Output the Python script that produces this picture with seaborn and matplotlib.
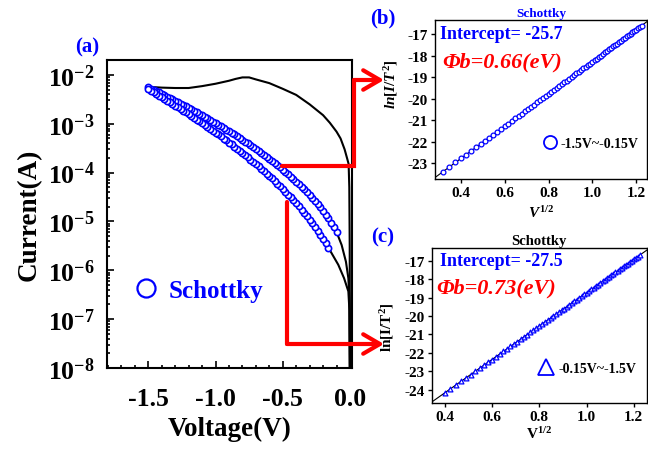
import numpy as np
import seaborn as sns
import matplotlib.pyplot as plt
from matplotlib.lines import Line2D
from matplotlib.patches import FancyArrowPatch
from matplotlib.ticker import MultipleLocator, FormatStrFormatter, LogLocator

# |V| sweep used for the Schottky fits (V)
bias = [0.10, 0.12, 0.14, 0.16, 0.18, 0.20, 0.22, 0.24, 0.26, 0.28,
        0.30, 0.32, 0.34, 0.36, 0.38, 0.40, 0.42, 0.44, 0.46, 0.48,
        0.50, 0.52, 0.54, 0.56, 0.58, 0.60, 0.62, 0.64, 0.66, 0.68,
        0.70, 0.72, 0.74, 0.76, 0.78, 0.80, 0.82, 0.84, 0.86, 0.88,
        0.90, 0.92, 0.94, 0.96, 0.98, 1.00, 1.02, 1.04, 1.06, 1.08,
        1.10, 1.12, 1.14, 1.16, 1.18, 1.20, 1.22, 1.24, 1.26, 1.28,
        1.30, 1.32, 1.34, 1.36, 1.38, 1.40, 1.42, 1.44, 1.46, 1.48,
        1.50]

# ln(I/T^2), branch -1.5V ~ -0.15V (panel b), one value per bias
ln_upper = [-23.41, -23.18, -22.97, -22.78, -22.60, -22.43, -22.26, -22.11, -21.96, -21.81,
            -21.67, -21.54, -21.41, -21.28, -21.16, -21.04, -20.92, -20.81, -20.69, -20.58,
            -20.48, -20.37, -20.27, -20.17, -20.07, -19.97, -19.87, -19.78, -19.69, -19.60,
            -19.51, -19.42, -19.33, -19.24, -19.16, -19.07, -18.99, -18.91, -18.82, -18.74,
            -18.66, -18.59, -18.51, -18.43, -18.36, -18.28, -18.21, -18.13, -18.06, -17.99,
            -17.91, -17.84, -17.77, -17.70, -17.63, -17.56, -17.50, -17.43, -17.36, -17.29,
            -17.23, -17.16, -17.10, -17.03, -16.97, -16.91, -16.84, -16.78, -16.72, -16.66,
            -16.59]

# ln(I/T^2), branch -0.15V ~ -1.5V (panel c), bias from 0.16 V
ln_lower = [-24.17, -23.95, -23.74, -23.55, -23.36, -23.18, -23.00, -22.83, -22.67, -22.51,
            -22.36, -22.21, -22.06, -21.92, -21.78, -21.65, -21.52, -21.39, -21.26, -21.14,
            -21.01, -20.89, -20.77, -20.66, -20.54, -20.43, -20.32, -20.21, -20.10, -20.00,
            -19.89, -19.79, -19.69, -19.59, -19.49, -19.39, -19.29, -19.20, -19.10, -19.01,
            -18.91, -18.82, -18.73, -18.64, -18.55, -18.46, -18.37, -18.29, -18.20, -18.12,
            -18.03, -17.95, -17.86, -17.78, -17.70, -17.62, -17.54, -17.46, -17.38, -17.30,
            -17.22, -17.15, -17.07, -16.99, -16.92, -16.84, -16.77, -16.69]

T = 300.0

# measured I-V (black)
sweep_v = [-1.50, -1.45, -1.40, -1.30, -1.20, -1.10, -1.00, -0.90, -0.85, -0.80,
           -0.75, -0.70, -0.60, -0.50, -0.40, -0.30, -0.20, -0.15, -0.10, -0.07,
           -0.04, -0.02, -0.01, -0.005, -0.002, 0.0]
sweep_i = [5.4e-3, 5.6e-3, 5.5e-3, 5.4e-3, 5.4e-3, 5.9e-3, 6.6e-3, 7.6e-3, 8.3e-3, 8.9e-3,
           8.9e-3, 8.1e-3, 6.8e-3, 5.2e-3, 3.9e-3, 2.5e-3, 1.5e-3, 1.05e-3, 6.9e-4, 5.0e-4,
           3.0e-4, 1.9e-4, 1.5e-4, 5.0e-5, 3.2e-6, 3e-9]
tail_up_v = [-0.10, -0.062, -0.03, -0.012, -0.004, 0.0]
tail_up_i = [6.1e-6, 3.3e-6, 1.5e-6, 6.9e-7, 2.5e-7, 3e-9]
tail_lo_v = [-0.16, -0.087, -0.044, -0.012, -0.004, 0.0]
tail_lo_i = [2.9e-6, 1.3e-6, 6.9e-7, 3.7e-7, 1.5e-7, 3e-9]

# linear fits (intercept, slope) of ln(I/T^2) vs V^1/2
fit_b = (-25.78, 7.50)
fit_c = (-27.80, 9.07)

sns.set_theme(style='ticks', rc={'axes.edgecolor': 'black', 'xtick.color': 'black',
                                 'ytick.color': 'black', 'text.color': 'black',
                                 'axes.labelcolor': 'black'})
plt.rcParams['font.family'] = ['Liberation Serif', 'DejaVu Serif']
plt.rcParams['font.weight'] = 'bold'
plt.rcParams['axes.labelweight'] = 'bold'
plt.rcParams['axes.titleweight'] = 'bold'
plt.rcParams['axes.unicode_minus'] = False
plt.rcParams['mathtext.fontset'] = 'custom'
plt.rcParams['mathtext.rm'] = 'Liberation Serif:bold'
plt.rcParams['mathtext.it'] = 'Liberation Serif:italic:bold'
plt.rcParams['mathtext.bf'] = 'Liberation Serif:bold'
plt.rcParams['mathtext.default'] = 'rm'

bias_arr = np.array(bias)
sqrt_up = np.sqrt(bias_arr)
sqrt_lo = np.sqrt(bias_arr[3:])
i_up = T ** 2 * np.exp(np.array(ln_upper))
i_lo = T ** 2 * np.exp(np.array(ln_lower))

fig = plt.figure(figsize=(6.48, 4.52), dpi=100)

# ---- (a) main I-V ----
ax = fig.add_axes([0.1651, 0.1836, 0.3781, 0.6814])
ax.set_yscale('log')
for xv, yv in [(sweep_v, sweep_i), (tail_up_v, tail_up_i), (tail_lo_v, tail_lo_i)]:
    sns.lineplot(x=xv, y=yv, sort=False, estimator=None, color='black', lw=1.5, ax=ax)
sns.scatterplot(x=-bias_arr, y=i_up, marker='o', s=20, facecolor='white',
                edgecolor='blue', linewidth=1.2, ax=ax, zorder=3)
sns.scatterplot(x=-bias_arr[3:], y=i_lo, marker='o', s=20, facecolor='white',
                edgecolor='blue', linewidth=1.2, ax=ax, zorder=3)
ax.set_xlim(-1.807, 0.015)
ax.set_ylim(1e-8, 2.02e-2)
ax.xaxis.set_major_locator(MultipleLocator(0.5))
ax.xaxis.set_minor_locator(MultipleLocator(0.1))
ax.xaxis.set_major_formatter(FormatStrFormatter('%.1f'))
ax.yaxis.set_major_locator(LogLocator(base=10, numticks=12))
ax.yaxis.set_minor_locator(LogLocator(base=10, subs='auto', numticks=12))
ax.tick_params(which='both', direction='in', width=1.2, labelsize=18.5)
ax.tick_params(which='major', length=5)
ax.tick_params(which='minor', length=2.5)
ax.tick_params(axis='x', pad=14)
ax.tick_params(axis='y', pad=9)
for sp in ax.spines.values():
    sp.set_linewidth(1.5)
ax.set_xlabel('Voltage(V)', fontsize=19.5, labelpad=4)
ax.set_ylabel('Current(A)', fontsize=19.5, labelpad=4)
leg_a = [Line2D([], [], ls='', marker='o', ms=13, mfc='white', mec='blue', mew=1.6)]
ax.legend(leg_a, ['Schottky'], loc='center left', bbox_to_anchor=(0.107, 0.253),
          frameon=False, handlelength=1.0, handletextpad=0.4, borderpad=0,
          borderaxespad=0, prop={'size': 18, 'weight': 'bold'}, labelcolor='blue')

# ---- (b) inset ----
axb = fig.add_axes([0.6713, 0.6018, 0.3272, 0.3518])
xb = [0.281, 1.25]
sns.lineplot(x=xb, y=[fit_b[0] + fit_b[1] * v for v in xb], color='black', lw=0.8, ax=axb)
sns.scatterplot(x=sqrt_up, y=ln_upper, marker='o', s=12, facecolor='white',
                edgecolor='blue', linewidth=0.9, ax=axb, zorder=3)
axb.set_xlim(0.281, 1.25)
axb.set_ylim(-23.74, -16.33)
axb.set_title('Schottky', color='blue', fontsize=9.5, pad=3)
axb.set_xlabel(r'$\mathit{V^{1/2}}$', fontsize=11, labelpad=4)
axb.set_ylabel(r'$\mathit{ln[I/T^2]}$', fontsize=11)
axb.yaxis.set_label_coords(-0.165, 0.6)
axb.text(0.024, 0.912, 'Intercept= -25.7', color='blue', fontsize=13,
         transform=axb.transAxes, va='center')
axb.text(0.032, 0.738, 'Φb=0.66(eV)', color='red', fontsize=16, style='italic',
         transform=axb.transAxes, va='center')
leg_b = [Line2D([], [], ls='', marker='o', ms=9.4, mfc='white', mec='blue', mew=1.3)]
axb.legend(leg_b, ['-1.5V~-0.15V'], loc='center left', bbox_to_anchor=(0.51, 0.226),
           frameon=False, handlelength=1.0, handletextpad=0.27, borderpad=0,
           borderaxespad=0, prop={'size': 10, 'weight': 'bold'})

# ---- (c) inset ----
axc = fig.add_axes([0.6659, 0.1055, 0.3326, 0.3436])
xc = [0.344, 1.256]
sns.lineplot(x=xc, y=[fit_c[0] + fit_c[1] * v for v in xc], color='black', lw=0.8, ax=axc)
sns.scatterplot(x=sqrt_lo, y=ln_lower, marker='^', s=12, facecolor='white',
                edgecolor='blue', linewidth=0.9, ax=axc, zorder=3)
axc.set_xlim(0.344, 1.256)
axc.set_ylim(-24.74, -16.3)
axc.set_title('Schottky', color='black', fontsize=10.5, pad=3)
axc.set_xlabel(r'V$^{1/2}$', fontsize=11, labelpad=1)
axc.set_ylabel(r'ln[I/T$^2$]', fontsize=11)
axc.yaxis.set_label_coords(-0.165, 0.5)
axc.text(0.038, 0.918, 'Intercept= -27.5', color='blue', fontsize=13,
         transform=axc.transAxes, va='center')
axc.text(0.022, 0.747, 'Φb=0.73(eV)', color='red', fontsize=16, style='italic',
         transform=axc.transAxes, va='center')
leg_c = [Line2D([], [], ls='', marker='^', ms=11, mfc='white', mec='blue', mew=1.3)]
axc.legend(leg_c, ['-0.15V~-1.5V'], loc='center left', bbox_to_anchor=(0.499, 0.227),
           frameon=False, handlelength=1.0, handletextpad=0.38, borderpad=0,
           borderaxespad=0, prop={'size': 10, 'weight': 'bold'})

for a in (axb, axc):
    a.xaxis.set_major_locator(MultipleLocator(0.2))
    a.yaxis.set_major_locator(MultipleLocator(1))
    a.xaxis.set_major_formatter(FormatStrFormatter('%.1f'))
    a.yaxis.set_major_formatter(FormatStrFormatter('%d'))
    a.tick_params(direction='out', length=3, width=1, labelsize=11, pad=2)
    for sp in a.spines.values():
        sp.set_linewidth(1.0)

# panel letters
fig.text(0.134, 0.896, '(a)', color='blue', fontsize=15, ha='center', va='center')
fig.text(0.591, 0.960, '(b)', color='blue', fontsize=15, ha='center', va='center')
fig.text(0.591, 0.474, '(c)', color='blue', fontsize=15, ha='center', va='center')


def fpos(px, py):
    return px / 648.0, 1.0 - py / 452.0


# red connectors from the fitted regions to the insets
p1 = [fpos(282, 167), fpos(354, 167), fpos(354, 81)]
p2 = [fpos(287, 203), fpos(287, 345)]
for pts, tip in [(p1, fpos(384, 81)), (p2, fpos(384, 345))]:
    xs = [p[0] for p in pts]
    ys = [p[1] for p in pts]
    fig.add_artist(Line2D(xs, ys, color='red', lw=3, transform=fig.transFigure,
                          solid_joinstyle='miter'))
    fig.add_artist(FancyArrowPatch(pts[-1], tip, transform=fig.transFigure,
                                   arrowstyle='->,head_length=0.6,head_width=0.35',
                                   mutation_scale=20, color='red', lw=3,
                                   shrinkA=0, shrinkB=0))

fig.savefig('out.png', dpi=100)
